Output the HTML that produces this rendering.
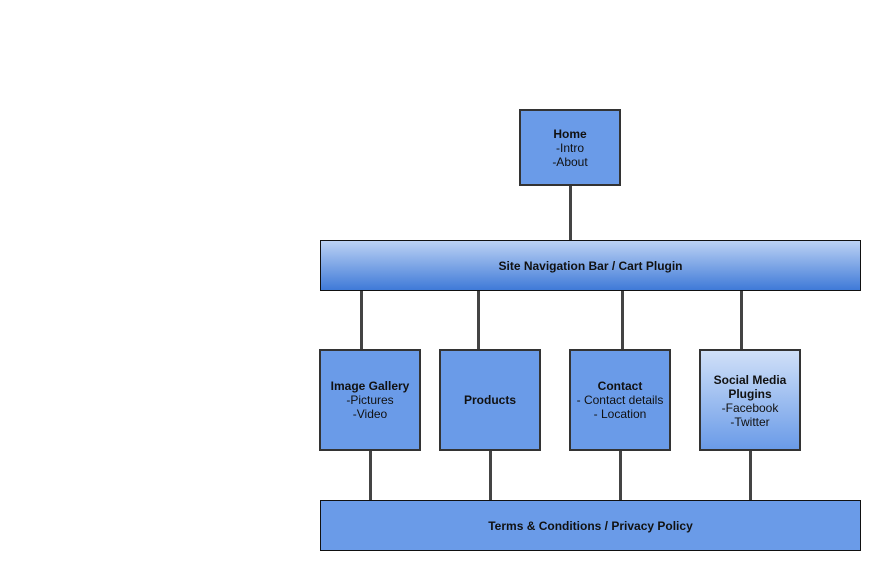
<!DOCTYPE html>
<html><head><style>
body{margin:0;width:880px;height:570px;background:#fff;position:relative;font-family:"Liberation Sans",sans-serif;font-size:12px;color:#111;overflow:hidden}
.b{position:absolute;box-sizing:border-box;background:#6a9be8;display:flex;flex-direction:column;align-items:center;justify-content:center;text-align:center;line-height:14px}
.n{border:2px solid #333}
.w{border:1px solid #111}
b{font-weight:bold}
.l{position:absolute;background:#444;width:3px}
</style></head><body>
<div class="l" style="left:569px;top:185px;height:56px"></div>
<div class="l" style="left:360px;top:290px;height:59px"></div>
<div class="l" style="left:477px;top:290px;height:59px"></div>
<div class="l" style="left:621px;top:290px;height:59px"></div>
<div class="l" style="left:740px;top:290px;height:59px"></div>
<div class="l" style="left:369px;top:450px;height:51px"></div>
<div class="l" style="left:489px;top:450px;height:51px"></div>
<div class="l" style="left:619px;top:450px;height:51px"></div>
<div class="l" style="left:749px;top:450px;height:51px"></div>
<div class="b n" style="left:519px;top:109px;width:102px;height:77px"><b>Home</b><span>-Intro</span><span>-About</span></div>
<div class="b w" style="left:320px;top:240px;width:541px;height:51px;background:linear-gradient(#bcd2f4,#3f7ad8)"><b>Site Navigation Bar / Cart Plugin</b></div>
<div class="b n" style="left:319px;top:349px;width:102px;height:102px"><b>Image Gallery</b><span>-Pictures</span><span>-Video</span></div>
<div class="b n" style="left:439px;top:349px;width:102px;height:102px"><b>Products</b></div>
<div class="b n" style="left:569px;top:349px;width:102px;height:102px"><b>Contact</b><span>- Contact details</span><span>- Location</span></div>
<div class="b n" style="left:699px;top:349px;width:102px;height:102px;background:linear-gradient(#d0e0f8,#6a9be8);justify-content:flex-start;padding-top:22px"><b>Social Media</b><b>Plugins</b><span>-Facebook</span><span>-Twitter</span></div>
<div class="b w" style="left:320px;top:500px;width:541px;height:51px"><b>Terms &amp; Conditions / Privacy Policy</b></div>
</body></html>
